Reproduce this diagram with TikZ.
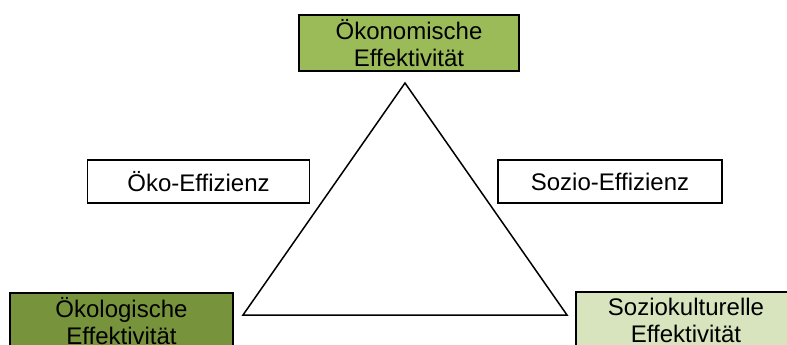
\documentclass[tikz,border=0pt]{standalone}
\usepackage{fontspec}
\setmainfont{Liberation Sans}
\definecolor{okoGreen}{HTML}{9BBB59}
\definecolor{oekoDark}{HTML}{77933C}
\definecolor{sozLight}{HTML}{D7E4BD}
\begin{document}
\begin{tikzpicture}[x=1pt,y=-1pt,
  box/.style={draw=black,line width=1.5pt,inner sep=0pt,align=center,
    font=\fontsize{24}{27}\selectfont,minimum height=56pt,minimum width=220pt},
  effbox/.style={draw=black,line width=1.5pt,inner sep=0pt,align=center,
    font=\fontsize{24}{27}\selectfont,fill=white,minimum height=43pt,minimum width=222pt},
  edge/.style={draw=black,line width=1.5pt,line join=miter}]
  \useasboundingbox (0,0) rectangle (787,345);
  \clip (0,0) rectangle (787,345);
  % three corners of the sustainability triangle
  \coordinate (top) at (405,83);
  \coordinate (bl) at (243,315);
  \coordinate (br) at (567,315);
  \draw[edge] (top) -- (bl) -- (br) -- cycle;
  % effectiveness boxes
  \node[box,fill=okoGreen] (econ) at (409,43) {Ökonomische\\Effektivität};
  \node[box,fill=oekoDark,minimum width=223pt] (eco) at (121.5,321) {Ökologische\\Effektivität};
  \node[box,fill=sozLight] (soc) at (686,320) {Soziokulturelle\\Effektivität};
  % efficiency boxes
  \node[effbox] (ecoeff) at (198.5,181.5) {Öko-Effizienz};
  \node[effbox,minimum width=224pt] (soceff) at (610,181.5) {Sozio-Effizienz};
\end{tikzpicture}
\end{document}
